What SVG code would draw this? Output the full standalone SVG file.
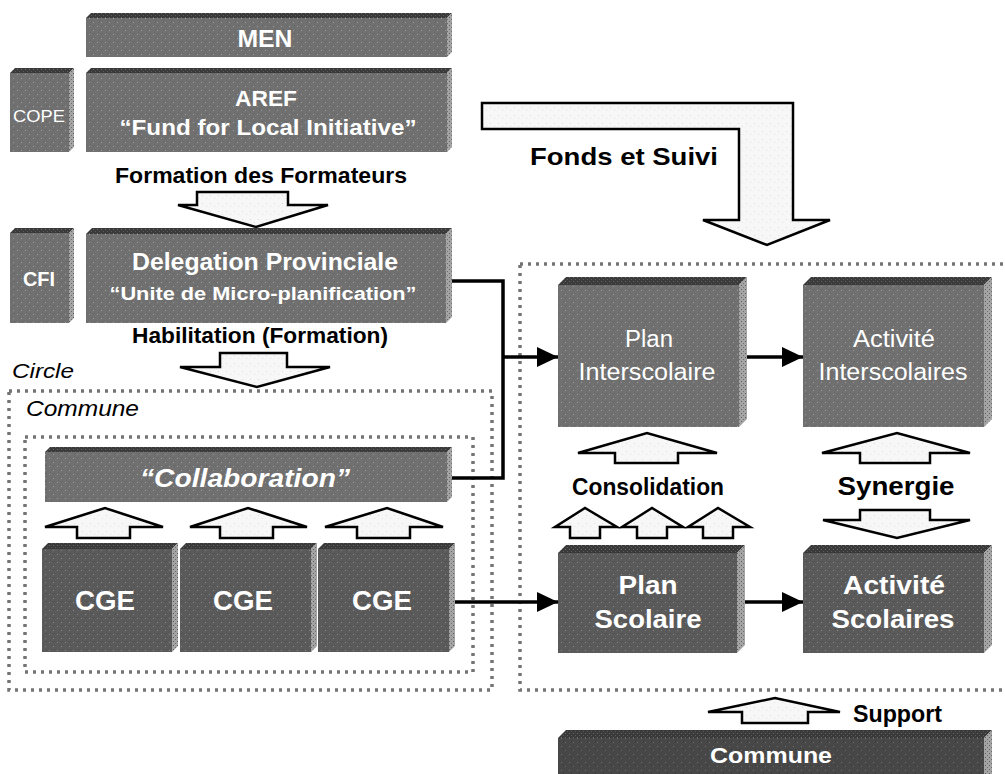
<svg xmlns="http://www.w3.org/2000/svg" width="1005" height="774" viewBox="0 0 1005 774">
<style>
.top{fill:url(#pTop)}
.side{fill:url(#pSide)}
.fm{fill:url(#pMid)}
.fd{fill:url(#pDark)}
.fx{fill:url(#pDarker)}
.lbl{fill:#fff;font-family:"Liberation Sans",Arial,sans-serif;font-weight:bold;text-anchor:middle}
.lbn{fill:#fff;font-family:"Liberation Sans",Arial,sans-serif;font-weight:normal;text-anchor:middle}
.blk{fill:#000;font-family:"Liberation Sans",Arial,sans-serif;font-weight:bold}
.ital{fill:#000;font-family:"Liberation Sans",Arial,sans-serif;font-style:italic}
.open{fill:url(#pWhite);stroke:#000;stroke-width:2.5;stroke-linejoin:miter}
.dot{fill:none;stroke:#747474;stroke-width:3.5;stroke-dasharray:3 5}
.conn{fill:none;stroke:#000;stroke-width:3.5}
</style>
<defs>
<pattern id="pMid" width="8" height="8" patternUnits="userSpaceOnUse">
<rect width="8" height="8" fill="#707070"/>
<rect x="1" y="2" width="1" height="1" fill="#a0a0a0"/>
<rect x="5" y="6" width="1" height="1" fill="#9a9a9a"/>
<rect x="6" y="1" width="1" height="1" fill="#626262"/>
<rect x="3" y="5" width="1" height="1" fill="#646464"/>
</pattern>
<pattern id="pDark" width="8" height="8" patternUnits="userSpaceOnUse">
<rect width="8" height="8" fill="#5a5a5a"/>
<rect x="1" y="2" width="1" height="1" fill="#8a8a8a"/>
<rect x="5" y="6" width="1" height="1" fill="#858585"/>
<rect x="6" y="1" width="1" height="1" fill="#4c4c4c"/>
<rect x="3" y="5" width="1" height="1" fill="#4e4e4e"/>
</pattern>
<pattern id="pDarker" width="8" height="8" patternUnits="userSpaceOnUse">
<rect width="8" height="8" fill="#474747"/>
<rect x="1" y="2" width="1" height="1" fill="#707070"/>
<rect x="5" y="6" width="1" height="1" fill="#6a6a6a"/>
<rect x="3" y="5" width="1" height="1" fill="#3a3a3a"/>
</pattern>
<pattern id="pTop" width="4" height="4" patternUnits="userSpaceOnUse">
<rect width="4" height="4" fill="#3a3a3a"/>
<rect x="1" y="1" width="1" height="1" fill="#6a6a6a"/>
<rect x="3" y="3" width="1" height="1" fill="#5a5a5a"/>
</pattern>
<pattern id="pSide" width="4" height="4" patternUnits="userSpaceOnUse">
<rect width="4" height="4" fill="#a4a4a4"/>
<rect x="1" y="1" width="1" height="1" fill="#5e5e5e"/>
<rect x="3" y="3" width="1" height="1" fill="#6e6e6e"/>
</pattern>
<pattern id="pWhite" width="8" height="8" patternUnits="userSpaceOnUse">
<rect width="8" height="8" fill="#f7f7f7"/>
<rect x="2" y="3" width="1" height="1" fill="#dcdcdc"/>
<rect x="6" y="6" width="1" height="1" fill="#e2e2e2"/>
</pattern>
<marker id="ah" markerUnits="userSpaceOnUse" markerWidth="21" markerHeight="20" refX="21" refY="10" orient="auto">
<path d="M0,0 L21,10 L0,20 Z" fill="#000"/>
</marker>
</defs>

<rect width="1005" height="774" fill="#fff"/>

<!-- dotted containers -->
<g id="containers">
<rect class="dot" x="9" y="391" width="483" height="299"/>
<rect class="dot" x="25" y="437" width="448" height="235"/>
<rect class="dot" x="520" y="264" width="500" height="426"/>
<text class="ital" x="12" y="378" font-size="21" textLength="62" lengthAdjust="spacingAndGlyphs">Circle</text>
<text class="ital" x="26" y="416" font-size="22" textLength="113" lengthAdjust="spacingAndGlyphs">Commune</text>
</g>

<!-- connectors -->
<g id="connectors">
<path class="conn" d="M452,281 H503 V478 H452"/>
<path class="conn" d="M503,357 H558" marker-end="url(#ah)"/>
<path class="conn" d="M455,602 H558" marker-end="url(#ah)"/>
<path class="conn" d="M747,357 H803" marker-end="url(#ah)"/>
<path class="conn" d="M745,602 H803" marker-end="url(#ah)"/>
</g>

<!-- block arrows -->
<g id="block-arrows">
<polygon class="open" points="197,192 288,192 288,205 328,205 256,227 178,205 197,205"/>
<polygon class="open" points="220,353 287,353 287,367 330,367 257,387 180,367 220,367"/>
<polygon class="open" points="77,538 77,527 45,527 105,508 163,527 130,527 130,538"/>
<polygon class="open" points="220,538 220,527 190,527 248,508 307,527 273,527 273,538"/>
<polygon class="open" points="357,538 357,527 325,527 387,508 443,527 410,527 410,538"/>
<polygon class="open" points="615,463 615,453 578,453 647,433 717,453 678,453 678,463"/>
<polygon class="open" points="860,463 860,453 822,453 897,433 970,453 930,453 930,463"/>
<polygon class="open" points="570,538 570,527 555,527 585,508 617,527 600,527 600,538"/>
<polygon class="open" points="637,538 637,527 622,527 652,508 683,527 667,527 667,538"/>
<polygon class="open" points="703,538 703,527 688,527 718,508 750,527 733,527 733,538"/>
<polygon class="open" points="860,510 930,510 930,520 970,520 897,538 823,520 860,520"/>
<polygon class="open" points="742,723 742,712 708,712 775,698 840,712 808,712 808,723"/>
<path class="open" d="M482,103 H793 V220 H830 L767,245 L703,220 H739 V129 H482 Z"/>
</g>

<!-- labels for block arrows -->
<g id="arrow-labels">
<text class="blk" x="261" y="183" font-size="22" text-anchor="middle" textLength="292" lengthAdjust="spacingAndGlyphs">Formation des Formateurs</text>
<text class="blk" x="260" y="343" font-size="22" text-anchor="middle" textLength="256" lengthAdjust="spacingAndGlyphs">Habilitation (Formation)</text>
<text class="blk" x="530" y="165" font-size="24" textLength="188" lengthAdjust="spacingAndGlyphs">Fonds et Suivi</text>
<text class="blk" x="648" y="495" font-size="23" text-anchor="middle" textLength="152" lengthAdjust="spacingAndGlyphs">Consolidation</text>
<text class="blk" x="896" y="495" font-size="26" text-anchor="middle" textLength="117" lengthAdjust="spacingAndGlyphs">Synergie</text>
<text class="blk" x="853" y="722" font-size="23" textLength="89" lengthAdjust="spacingAndGlyphs">Support</text>
</g>

<g id="men">
<rect class="fm" x="86" y="18" width="361" height="39"/>
<polygon class="top" points="86,18 91,13 452,13 447,18"/>
<polygon class="side" points="447,18 452,13 452,52 447,57"/>
<text class="lbl" x="265" y="47" font-size="24" textLength="55" lengthAdjust="spacingAndGlyphs">MEN</text>
</g>

<g id="cope">
<rect class="fm" x="10" y="73" width="59" height="79"/>
<polygon class="top" points="10,73 15,68 74,68 69,73"/>
<polygon class="side" points="69,73 74,68 74,147 69,152"/>
<text class="lbn" x="39" y="122" font-size="17" textLength="52" lengthAdjust="spacingAndGlyphs">COPE</text>
</g>

<g id="aref">
<rect class="fm" x="86" y="73" width="361" height="79"/>
<polygon class="top" points="86,73 91,68 452,68 447,73"/>
<polygon class="side" points="447,73 452,68 452,147 447,152"/>
<text class="lbl" x="266" y="106" font-size="22" textLength="62" lengthAdjust="spacingAndGlyphs">AREF</text>
<text class="lbl" x="268" y="135" font-size="22" textLength="297" lengthAdjust="spacingAndGlyphs">“Fund for Local Initiative”</text>
</g>

<g id="cfi">
<rect class="fm" x="10" y="233" width="59" height="90"/>
<polygon class="top" points="10,233 15,228 74,228 69,233"/>
<polygon class="side" points="69,233 74,228 74,318 69,323"/>
<text class="lbl" x="39" y="286" font-size="21" textLength="32" lengthAdjust="spacingAndGlyphs">CFI</text>
</g>

<g id="delegation">
<rect class="fm" x="86" y="234" width="360" height="89"/>
<polygon class="top" points="86,234 92,228 452,228 446,234"/>
<polygon class="side" points="446,234 452,228 452,317 446,323"/>
<text class="lbl" x="265" y="270" font-size="24" textLength="266" lengthAdjust="spacingAndGlyphs">Delegation Provinciale</text>
<text class="lbl" x="263" y="300" font-size="18" textLength="307" lengthAdjust="spacingAndGlyphs">“Unite de Micro-planification”</text>
</g>

<g id="collaboration">
<rect class="fm" x="45" y="452" width="402" height="50"/>
<polygon class="top" points="45,452 50,447 452,447 447,452"/>
<polygon class="side" points="447,452 452,447 452,497 447,502"/>
<text class="lbl" x="245" y="487" font-size="25" font-style="italic" textLength="210" lengthAdjust="spacingAndGlyphs">“Collaboration”</text>
</g>

<g id="cge1">
<rect class="fd" x="42" y="549" width="130" height="103"/>
<polygon class="top" points="42,549 48,543 178,543 172,549"/>
<polygon class="side" points="172,549 178,543 178,646 172,652"/>
<text class="lbl" x="105" y="610" font-size="27" textLength="60" lengthAdjust="spacingAndGlyphs">CGE</text>
</g>
<g id="cge2">
<rect class="fd" x="180" y="549" width="131" height="103"/>
<polygon class="top" points="180,549 186,543 317,543 311,549"/>
<polygon class="side" points="311,549 317,543 317,646 311,652"/>
<text class="lbl" x="243" y="610" font-size="27" textLength="60" lengthAdjust="spacingAndGlyphs">CGE</text>
</g>
<g id="cge3">
<rect class="fd" x="318" y="549" width="131" height="103"/>
<polygon class="top" points="318,549 324,543 455,543 449,549"/>
<polygon class="side" points="449,549 455,543 455,646 449,652"/>
<text class="lbl" x="382" y="610" font-size="27" textLength="60" lengthAdjust="spacingAndGlyphs">CGE</text>
</g>

<g id="plan-interscolaire">
<rect class="fm" x="558" y="285" width="181" height="142"/>
<polygon class="top" points="558,285 566,277 747,277 739,285"/>
<polygon class="side" points="739,285 747,277 747,419 739,427"/>
<text class="lbn" x="649" y="347" font-size="23" textLength="48" lengthAdjust="spacingAndGlyphs">Plan</text>
<text class="lbn" x="647" y="380" font-size="23" textLength="137" lengthAdjust="spacingAndGlyphs">Interscolaire</text>
</g>

<g id="activite-interscolaires">
<rect class="fm" x="803" y="285" width="181" height="142"/>
<polygon class="top" points="803,285 811,277 992,277 984,285"/>
<polygon class="side" points="984,285 992,277 992,419 984,427"/>
<text class="lbn" x="894" y="347" font-size="23" textLength="82" lengthAdjust="spacingAndGlyphs">Activité</text>
<text class="lbn" x="893" y="380" font-size="23" textLength="149" lengthAdjust="spacingAndGlyphs">Interscolaires</text>
</g>

<g id="plan-scolaire">
<rect class="fd" x="558" y="553" width="179" height="100"/>
<polygon class="top" points="558,553 566,545 745,545 737,553"/>
<polygon class="side" points="737,553 745,545 745,645 737,653"/>
<text class="lbl" x="648" y="594" font-size="26" textLength="59" lengthAdjust="spacingAndGlyphs">Plan</text>
<text class="lbl" x="648" y="628" font-size="26" textLength="107" lengthAdjust="spacingAndGlyphs">Scolaire</text>
</g>

<g id="activite-scolaires">
<rect class="fd" x="803" y="553" width="181" height="100"/>
<polygon class="top" points="803,553 811,545 992,545 984,553"/>
<polygon class="side" points="984,553 992,545 992,645 984,653"/>
<text class="lbl" x="894" y="594" font-size="26" textLength="102" lengthAdjust="spacingAndGlyphs">Activité</text>
<text class="lbl" x="893" y="628" font-size="26" textLength="123" lengthAdjust="spacingAndGlyphs">Scolaires</text>
</g>

<g id="commune">
<rect class="fx" x="558" y="738" width="426" height="50"/>
<polygon class="top" points="558,738 566,730 992,730 984,738"/>
<polygon class="side" points="984,738 992,730 992,780 984,788"/>
<text class="lbl" x="771" y="763" font-size="22" textLength="122" lengthAdjust="spacingAndGlyphs">Commune</text>
</g>
</svg>
